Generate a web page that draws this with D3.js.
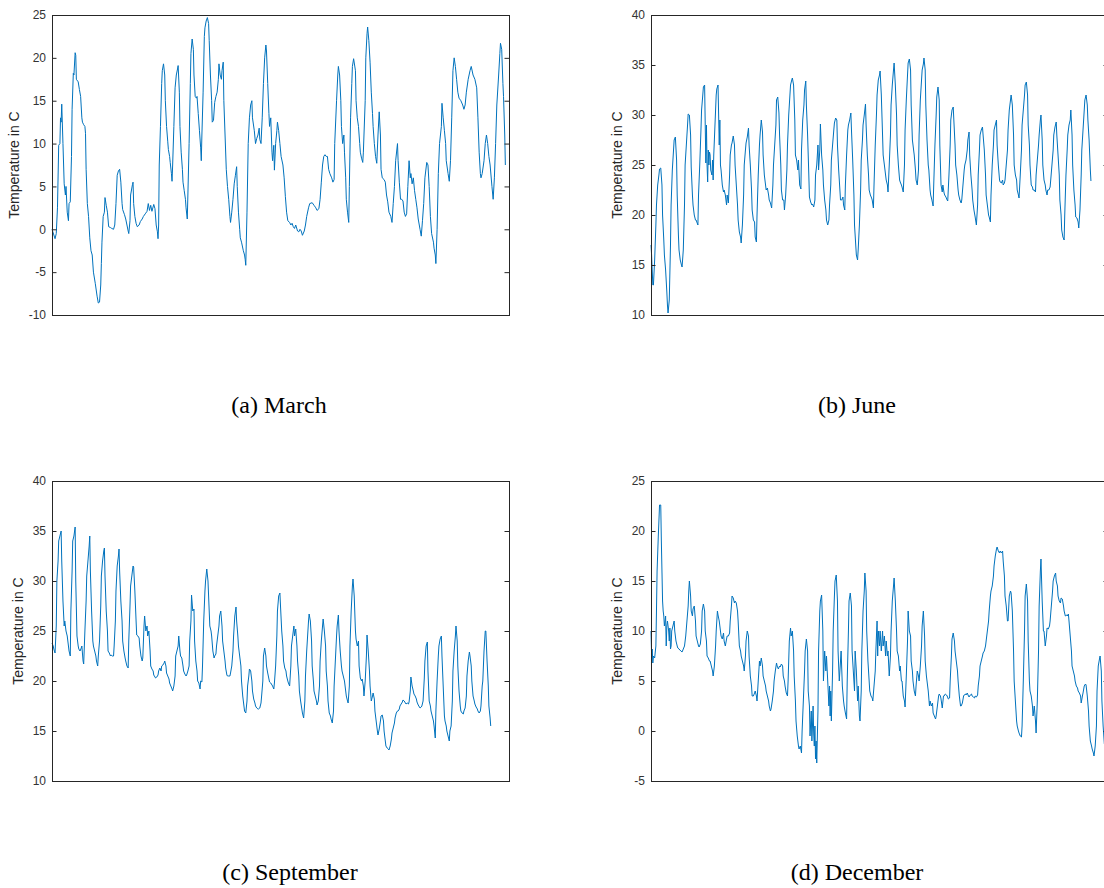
<!DOCTYPE html>
<html>
<head>
<meta charset="utf-8">
<script src="https://cdn.jsdelivr.net/npm/d3@7"></script>
<style>
  html, body { margin: 0; padding: 0; background: #ffffff; }
  svg { display: block; }
</style>
</head>
<body>
<svg id="fig" width="1104" height="888"></svg>
<script>
// Hourly air temperature for four months, [hour of month, temperature in °C]
const marchTemp = [[0,0],[5,-1.1],[7,-0.5],[9,2.5],[11,9.8],[13,10],[14,13],[15,12.5],[16,14.6],[18,10],[20,5.3],[22,4],[23,5],[25,2],[27,1],[28,3],[30,3.2],[32,8.5],[33,14],[35,18.2],[36,18],[38,20.6],[39,20.3],[40,17.5],[43,17.2],[45,16.3],[47,15.5],[49,13],[50,12.5],[52,12.2],[54,12],[55,11.2],[56,7],[58,3],[60,1.5],[62,-1],[64,-2.5],[66,-3],[68,-5],[71,-6.3],[74,-7.8],[76,-8.6],[78,-8.5],[80,-6.5],[81,-4],[82,-1.5],[84,1.5],[86,2],[87,3.7],[89,2.8],[91,2],[93,0.3],[96,0.2],[98,0.1],[101,0],[103,0.5],[105,3],[107,6.3],[109,6.8],[111,7],[113,5.5],[115,3],[116,2.3],[119,1.7],[121,1.2],[123,0.5],[125,-0.2],[126,-0.5],[128,1],[129,4],[132,5.2],[133,5.5],[134,3],[136,1.5],[138,0.7],[140,0.3],[143,0.5],[145,0.9],[148,1.2],[150,1.5],[153,1.8],[156,2.1],[158,3],[160,2.2],[162,2.8],[164,2.1],[167,2.9],[169,2.4],[171,0.5],[173,-0.3],[174,-1.1],[175,0.5],[176,7.5],[178,12],[180,17],[181,18.5],[183,19.3],[185,18],[186,15],[188,12],[190,10.2],[191,9.3],[193,8.5],[194,7.8],[196,6.5],[197,5.6],[198,7.5],[200,12],[202,16.5],[204,18],[206,18.7],[207,19.1],[209,16],[210,12],[212,9],[214,7],[215,5.5],[217,4.5],[219,3.5],[220,2.5],[222,1.2],[223,4],[225,10],[227,17],[228,20.5],[230,22.2],[232,21],[233,18],[235,15.5],[237,15.3],[238,15.5],[240,13.5],[242,11.5],[244,9.5],[245,8],[246,11],[248,16],[250,22.5],[251,23.5],[253,24.3],[255,24.7],[257,24],[258,22],[260,18],[262,15],[263,12.5],[265,12.7],[267,14.8],[269,15.5],[271,16],[273,17.5],[274,19.3],[276,18],[278,17.5],[279,18.5],[281,19.5],[282,15],[284,11],[286,7],[288,5],[290,3.5],[292,1.5],[293,0.8],[295,2],[297,3.5],[299,5.3],[301,6.3],[303,7.3],[304,5],[306,2],[308,0],[309,-1],[311,-1.5],[314,-2.5],[316,-3],[317,-3.5],[318,-4.2],[320,2],[322,10],[324,13],[326,14.5],[328,15],[329,13],[332,11.5],[334,10],[336,10.6],[338,11],[340,11.8],[341,10.5],[343,10],[345,13],[347,17],[349,20],[351,21.5],[352,20.8],[354,17],[356,13.5],[357,12],[359,13],[361,9],[362,8],[364,9.8],[365,6.9],[367,10],[369,11.5],[370,12.5],[372,11.5],[374,10],[376,8.5],[379,7.5],[381,6],[383,3.8],[385,2],[387,1],[390,0.8],[392,0.5],[394,0.7],[396,0.3],[398,0.1],[400,0.5],[403,-0.2],[405,-0.3],[407,0],[409,-0.2],[411,-0.7],[414,-0.2],[416,0.5],[418,1.5],[421,2.5],[423,3],[427,3.1],[430,2.8],[433,2.5],[435,2.2],[438,2.4],[440,3.5],[442,5.5],[444,7.5],[446,8.5],[448,8.7],[450,8.5],[452,8.5],[454,7],[456,6.5],[459,6],[461,5.5],[463,5.8],[464,10],[467,15],[469,18],[470,19],[472,18],[474,15],[475,12],[477,10],[479,11],[480,9],[482,6],[483,3.5],[485,2],[487,0.8],[488,5],[490,13],[492,17],[493,19],[495,19.9],[498,18.5],[499,15],[501,13],[503,12],[505,10],[506,9],[508,8.3],[510,7.8],[511,9],[514,15],[515,20],[517,22.8],[518,23.6],[520,22],[522,19.5],[524,16],[526,13.5],[527,12],[529,10],[531,8.5],[533,7.7],[535,11],[537,13.7],[539,11],[540,7],[542,6],[545,5.8],[547,5.5],[549,4],[551,3.2],[553,2],[556,1.5],[558,0.8],[560,3],[562,5],[564,8],[567,10],[568,8],[570,5.5],[572,3.5],[574,3.5],[576,3.3],[578,2],[580,1.5],[582,1.8],[584,5],[586,8],[588,6],[589,6.5],[591,5.3],[593,6],[595,4.5],[597,3.5],[599,2.5],[601,1.2],[604,0],[606,-0.8],[608,1],[610,3],[612,6],[615,7.8],[617,7.5],[619,5],[621,1.5],[623,-0.5],[626,-1.5],[627,-2.2],[629,-3],[630,-4],[632,0],[634,6.5],[636,10],[639,12],[640,14.7],[642,13],[644,11.5],[646,10],[647,8],[650,6.5],[652,5.6],[654,8],[656,13],[658,18.5],[660,20],[662,19],[664,17.5],[666,16],[668,15.3],[671,15],[674,14.5],[676,14],[678,14.5],[680,16],[683,17.5],[686,18.5],[688,19],[691,18],[694,17.5],[697,16.5],[699,13],[701,9],[703,6.5],[704,6],[706,6.5],[709,8],[711,10],[713,11],[715,10],[717,8.5],[719,7.5],[722,5],[724,3.5],[726,6],[728,10],[730,14.5],[733,18],[735,20.5],[736,21.7],[738,21],[740,17],[741,15.5],[743,11],[744,7.5]];

const juneTemp = [[0,17],[1,16],[3,13],[4,13],[6,15.5],[8,19],[9,21],[11,23],[13,24],[14,24.6],[16,24.7],[18,23],[19,20],[21,17.5],[22,16],[24,14.5],[26,12.3],[27,11],[28,10.2],[30,11.5],[32,17],[33,21],[35,24.5],[37,26.5],[38,27.5],[40,27.8],[42,25.5],[43,22],[45,18],[46,16.5],[48,15.5],[50,15],[51,14.8],[53,16.5],[55,21],[56,25],[58,27],[60,29],[61,30.1],[63,30],[65,28],[66,24.8],[68,22],[69,21],[71,20],[73,19.5],[74,19.5],[77,19],[78,22],[80,25],[82,28.5],[83,30.5],[85,32],[86,32.8],[88,33],[89,29],[90,25.2],[91,29],[92,25],[93,23.3],[94,26.5],[95,25],[96,26.3],[97,26],[98,24.5],[100,24],[101,25.5],[102,23.5],[103,26],[105,29],[107,32],[108,32.6],[110,33],[111,30],[112,27],[113,29.5],[114,25],[115,24.5],[117,23],[119,22.3],[120,22.5],[122,22],[124,21],[125,22],[127,21.2],[129,24],[130,26],[132,27],[133,27.2],[135,27.9],[137,27],[138,25],[140,23],[142,21],[143,19.5],[145,18.3],[147,17.8],[148,17.2],[150,19],[152,22],[153,25],[155,26.5],[156,27.2],[158,27.8],[160,28.7],[161,27],[163,25],[165,22.5],[166,20.5],[168,19.5],[170,19.3],[171,17.8],[173,17.3],[174,20],[176,24],[178,27],[179,28],[181,29.5],[183,28.3],[184,26],[186,24],[188,23],[189,22.5],[191,22.7],[193,22],[194,21.5],[196,21.2],[198,20.7],[200,23],[201,25],[203,27],[205,29],[206,31.5],[208,31.8],[210,30.2],[211,28],[213,25],[214,22.5],[216,21.5],[218,21.5],[219,20.5],[221,22],[223,24.5],[224,27],[226,30],[228,32],[229,33],[231,33.5],[232,33.7],[234,33],[236,29.5],[237,26],[239,25.5],[241,24.5],[242,25.5],[244,23],[246,22.6],[247,26.5],[249,29.5],[251,31],[252,32.5],[254,33.4],[255,31],[257,28],[259,24],[260,21.8],[262,21.3],[264,21],[265,21.1],[267,20.8],[269,21.5],[270,24],[272,25],[274,27],[275,24.5],[277,26.5],[278,29.1],[280,26],[282,24.5],[283,23],[285,21.5],[287,20.5],[288,19.5],[290,19],[292,19.5],[293,21],[295,23],[296,25.5],[298,27],[300,28.5],[301,29.2],[303,29.7],[305,29.5],[306,27],[308,24.5],[310,22.5],[311,21.5],[313,21.5],[315,21.8],[316,21],[318,20.5],[319,23],[321,26],[323,28.5],[324,29],[326,29.5],[328,30.2],[329,28.5],[331,25.5],[333,22],[334,19],[336,17],[337,16],[339,15.5],[340,16.5],[342,19],[344,22.5],[345,25.5],[347,27.5],[348,29],[350,30],[352,31.1],[353,29],[355,26],[357,24],[358,22.5],[360,22],[362,21.7],[363,21.5],[365,20.7],[366,23],[368,27],[370,30],[371,32],[373,33.5],[375,34],[376,34.4],[378,32],[380,28],[381,26],[383,25],[385,24],[386,23.5],[388,23],[389,22.3],[391,25],[393,28],[394,31],[396,33],[398,34.5],[399,35.2],[401,33],[403,30],[404,27],[406,25],[408,23.5],[409,23.3],[411,23],[412,22.8],[414,22.3],[416,25],[417,28.5],[419,31.5],[421,34],[422,35.2],[424,35.6],[426,34.5],[427,31],[429,27.5],[430,27],[432,26],[434,24.5],[435,23.5],[437,23],[439,24.5],[440,28],[442,31.5],[444,33.5],[445,34.5],[447,35.1],[448,35.7],[450,34.5],[451,31],[453,27.5],[455,25],[456,24.5],[458,22.5],[459,22],[461,21.5],[463,20.9],[464,23],[466,27],[468,30],[469,31.8],[471,32.8],[473,31.5],[474,27],[476,23],[478,22.3],[479,23],[481,22.2],[482,22],[484,21.8],[486,21.5],[487,21.4],[489,24],[491,27],[492,29.5],[494,30.5],[496,30.8],[497,29.5],[499,27],[500,25],[502,24],[504,22.5],[505,22],[507,21.5],[509,21.2],[510,21.5],[512,23],[514,24.5],[515,25],[517,25.5],[519,26.5],[520,27.5],[522,28.3],[523,26],[525,24],[527,22.5],[528,21.5],[530,20.5],[532,19.8],[534,19],[536,21],[537,24],[539,26.5],[540,28],[542,28.5],[544,28.8],[545,28],[547,26.5],[549,24],[550,22],[552,21],[554,20],[555,19.8],[557,19.3],[558,22],[560,25],[562,27],[563,28.5],[565,29],[567,29.5],[568,27],[570,25],[572,23.5],[573,23.3],[575,23.2],[577,23.5],[578,23],[580,23.2],[581,23.5],[583,25],[585,26.5],[586,28.5],[588,30.5],[590,31.5],[591,32],[593,31],[595,28],[596,25],[598,24],[600,23.5],[601,22.5],[603,22],[604,21.7],[606,24],[608,26.5],[609,29],[611,30.5],[613,32],[614,33],[616,33.3],[618,32],[619,29],[621,27],[622,25],[624,23],[626,22.8],[627,22.5],[629,22.5],[631,22.3],[632,24],[634,25.5],[636,27],[637,28],[639,29.5],[640,30],[642,27.5],[643,25],[645,23.5],[647,23],[648,22.5],[650,22],[651,22.5],[653,22.5],[655,22.8],[656,23.5],[658,25],[660,26.5],[661,28],[663,28.8],[665,29.3],[666,28],[668,26],[670,24],[671,21.5],[673,20],[674,18.5],[676,17.8],[678,17.5],[679,20],[681,24],[683,26.5],[684,28],[686,29],[688,29.5],[689,30.5],[691,28],[692,25],[694,22.5],[696,21],[697,19.8],[699,19.7],[701,19.3],[702,18.7],[704,20.5],[706,24],[707,26.5],[709,28.5],[711,30.5],[712,31.5],[714,32],[716,31],[717,29.5],[719,27.5],[720,26],[721,24.5],[722,23.4]];

const septemberTemp = [[0,23.8],[2,23.5],[3,23.2],[5,22.8],[7,25.5],[8,30],[10,32],[11,34],[13,34.5],[15,35],[16,32],[18,28],[20,25.5],[21,26],[23,25],[25,24.5],[26,24],[28,23],[30,22.5],[31,27],[33,31],[34,34],[36,34.5],[38,35.4],[39,30],[41,24.5],[43,23.5],[44,23.2],[46,23],[48,23.3],[49,23.5],[51,22],[52,21.7],[54,25],[56,28],[57,30.5],[59,32],[61,33.5],[62,34.5],[63,31],[65,27],[67,24],[68,23.5],[70,23],[72,22.5],[73,22],[75,21.5],[76,22.5],[78,24],[80,27.5],[81,30.5],[83,32],[85,33],[86,33.3],[87,30.5],[89,27],[91,25],[92,23],[94,22.8],[96,22.5],[97,22.6],[99,22.5],[101,22.5],[102,23.5],[104,26],[105,29],[107,31.5],[109,32.5],[110,33.2],[111,31],[113,28],[115,26],[116,24],[118,23],[120,22.3],[121,22],[123,21.5],[125,21.3],[126,24],[128,27.5],[129,29.5],[131,30.5],[133,31.5],[134,31.4],[136,29],[138,26],[139,24.6],[141,24.5],[143,24.3],[144,23.5],[146,22.5],[148,22],[149,22.3],[151,25.5],[152,26.5],[154,25],[156,25.5],[157,24.5],[159,25],[161,23],[162,21.5],[164,21.2],[166,21],[167,20.6],[169,20.4],[170,20.3],[172,20.4],[174,20.6],[175,21],[177,21.3],[179,21],[180,21.5],[182,21.6],[184,21.8],[185,22],[187,21.5],[188,20.8],[190,20.5],[192,20.2],[193,19.8],[195,19.5],[197,19.2],[198,19],[200,19.5],[202,20.5],[203,22.5],[205,23],[207,23.5],[208,24.5],[210,23],[211,22.5],[213,22.3],[215,21.5],[216,21],[218,20.7],[220,20.5],[221,20.6],[223,21],[225,21.5],[226,24],[228,26],[229,28.6],[231,27],[233,27.2],[234,24],[236,22],[238,21],[239,20],[241,19.8],[243,19.2],[244,20],[246,19.9],[247,21.5],[249,26],[251,29],[252,30],[254,31.2],[256,30],[257,28.5],[259,25.5],[261,25],[262,24.5],[264,23],[266,22.3],[267,22.5],[269,22.7],[270,23.5],[272,24.5],[274,25.5],[275,26.5],[277,27],[279,25.5],[280,24],[282,23],[284,22],[285,21.3],[287,20.6],[288,20.5],[290,20.5],[292,20.5],[293,20.8],[295,21.5],[297,23],[298,24.5],[300,26.5],[302,27.4],[303,26],[305,24.5],[306,23.5],[308,22.5],[310,21.5],[311,20],[313,18.5],[315,17.5],[316,17],[318,16.8],[320,18],[321,19.5],[323,20.5],[324,21.2],[326,21],[328,20],[329,19],[331,18.2],[333,17.8],[334,17.5],[336,17.3],[338,17.2],[339,17.2],[341,17.3],[343,17.8],[344,18.5],[346,20],[347,22.5],[349,23.3],[351,22.5],[352,21.5],[354,20.8],[356,20.2],[357,19.9],[359,19.8],[361,19.6],[362,19.5],[364,19.2],[365,19.8],[367,21.5],[369,24.5],[370,27],[372,28.5],[374,28.8],[375,27.5],[377,25],[379,23.5],[380,22],[382,21.3],[384,21],[385,20.5],[387,20],[388,19.8],[390,19.5],[392,21.5],[393,23.5],[395,24.5],[397,25.5],[398,24.5],[400,25.2],[402,23.5],[403,22],[405,20.5],[406,19],[408,18],[410,17.2],[411,16.8],[413,16.3],[415,18],[416,20.5],[418,23],[420,25],[421,26],[422,26.7],[424,26],[426,24],[427,21.5],[429,20],[430,19],[432,18.5],[434,18],[435,17.6],[437,18],[439,19.5],[440,22],[442,24],[444,25.5],[445,26.2],[447,25],[449,23.5],[450,21],[452,19.5],[453,18],[455,16.8],[457,16.5],[458,16.2],[460,15.8],[462,17],[463,19.5],[465,22],[467,24.5],[468,25.5],[470,26.6],[471,25],[473,23],[475,21.5],[476,21],[478,20.5],[480,20],[481,19.5],[483,18.5],[485,18],[486,17.8],[488,19.5],[489,23.5],[491,27],[493,29.5],[494,30.2],[496,28.5],[498,25],[499,24.2],[501,23.5],[503,24],[504,21.5],[506,20.3],[508,20],[509,20.2],[511,19.5],[512,18.5],[514,20],[516,22.5],[517,24.6],[519,23],[521,21],[522,19.5],[524,18],[526,18.5],[527,18.8],[529,18.2],[530,17],[532,16],[534,15],[535,14.6],[537,15.2],[539,16],[540,16.5],[542,16.6],[544,16],[545,15],[547,14],[548,13.5],[550,13.3],[552,13.2],[553,13.1],[555,13.5],[557,14.2],[558,14.8],[560,15.3],[562,15.8],[563,16.3],[565,16.8],[567,17],[568,17],[570,17.2],[571,17.5],[573,17.7],[575,17.9],[576,18.1],[578,18],[580,17.8],[581,17.7],[583,17.8],[585,17.7],[586,17.9],[588,19],[589,20.4],[591,19.5],[593,19],[594,18.7],[596,18.5],[598,18.2],[599,17.9],[601,17.6],[603,17.4],[604,17.3],[606,17.4],[607,17.5],[609,18],[611,20.3],[612,22],[614,23.5],[616,23.9],[617,21],[619,18],[621,17.5],[622,17],[624,16.5],[626,16],[627,15.5],[629,14.3],[630,17],[632,20],[634,22.5],[635,23.5],[637,24.2],[639,24.5],[640,22.5],[642,19.5],[644,16.5],[645,16],[647,15.5],[648,15],[650,14.5],[652,14],[653,15],[655,15.5],[657,18],[658,21],[660,23],[662,24.5],[663,25.5],[665,24],[666,21.5],[668,19],[670,17.5],[671,17],[673,16.8],[675,16.7],[676,17],[678,17.3],[680,18.5],[681,20.5],[683,22],[685,22.9],[686,22.5],[688,21.5],[689,20],[691,18.5],[693,18],[694,17.7],[696,17.4],[698,17.2],[699,17],[701,16.8],[703,17],[704,17.5],[706,19.5],[707,20],[709,23],[711,25],[712,25],[714,22],[716,19.5],[717,17.5],[719,16.3],[720,15.5]];

const decemberTemp = [[0,10],[1,7.5],[2,8.2],[3,6.8],[4,7.5],[6,7.3],[8,8.5],[9,12],[10,16],[12,19.5],[13,21],[14,22.6],[16,22.6],[17,19],[18,16],[19,13],[20,12],[21,11.5],[22,10.5],[24,11.5],[25,8.5],[26,10.5],[27,11],[29,10],[30,9],[31,10.3],[32,8.2],[33,8.5],[34,10],[36,10.5],[38,11],[39,10],[41,9],[43,8.5],[44,8.3],[46,8.2],[49,8],[51,7.9],[53,8.2],[55,8.5],[57,9.5],[59,11],[61,12.5],[62,14],[63,15],[65,13.5],[66,12],[68,11.5],[69,12.2],[71,12.5],[73,11],[74,9.5],[76,9],[78,8.5],[79,8.4],[81,8.7],[83,10],[84,12],[86,12.7],[88,12],[89,10],[91,9],[92,7.5],[94,7.3],[96,7],[97,7],[99,6.5],[101,6],[102,5.5],[104,6.5],[106,8.5],[107,10],[109,12],[110,11.6],[112,11],[114,10],[115,9.5],[117,9.2],[119,9.8],[120,9],[122,8.5],[124,9.2],[125,9.5],[127,9.5],[129,9.8],[130,11],[132,12.5],[133,13.5],[135,13.3],[137,12.8],[138,13],[140,12.8],[142,12],[143,11],[145,8.5],[147,8],[148,7.5],[150,7],[152,6.5],[153,6],[155,7.5],[156,9],[158,10],[160,9.5],[161,7.5],[163,5.5],[165,4.5],[166,3.5],[168,3.5],[170,3.8],[171,4],[173,3.5],[174,3],[176,5],[178,7],[179,6.5],[181,7.3],[183,6.5],[184,5.5],[186,5],[188,4.5],[189,4],[191,3.5],[193,3],[194,2.5],[196,2],[197,2.2],[199,3],[201,4],[202,5],[204,6],[206,6.8],[207,6.5],[209,6.2],[211,6.5],[212,6.4],[214,6.7],[216,6.5],[217,5.5],[219,5],[220,4.5],[222,3.8],[224,3.5],[225,5],[227,9],[229,10.3],[230,9.5],[232,10],[234,8],[235,5.5],[237,3],[238,1],[240,-0.5],[242,-1.5],[243,-1.8],[245,-1.5],[247,-2.2],[248,0],[250,3],[252,6],[253,8],[255,9.2],[257,8],[258,4],[260,2.5],[261,-0.5],[263,2],[264,-1],[265,0.5],[266,2.5],[267,-0.3],[268,-1.5],[269,0.5],[270,-2.8],[271,-1],[272,-3.2],[274,2],[275,8],[277,12],[278,13],[280,13.6],[282,10],[283,5],[285,8],[287,6],[288,7.5],[290,5],[292,2.5],[293,4.5],[294,1.5],[295,4],[296,1],[298,6],[299,10],[301,13.5],[302,15],[304,15.6],[306,13],[307,8],[309,5],[311,7],[312,8],[314,4.5],[316,3],[317,2.5],[319,1.8],[321,1.2],[322,5],[324,10],[325,13],[327,13.8],[329,12.5],[330,8],[332,6],[334,4],[335,8],[337,6],[339,3],[340,4.5],[342,1.5],[343,1],[345,4],[346,8],[348,12],[350,14],[351,15.8],[353,14],[354,10],[356,7],[358,5],[359,4],[361,3.5],[363,3.3],[364,3],[366,4.5],[368,6],[369,8],[371,11],[372,7.5],[373,10],[375,8.5],[376,10],[378,8],[380,10],[381,8.5],[383,9.5],[385,7.5],[386,9],[388,7.5],[389,8],[391,5.5],[393,7.5],[394,10],[396,13],[398,14.5],[399,15.3],[401,13],[403,10],[404,8],[406,7.5],[408,6],[409,6.5],[411,5],[412,5],[414,3.5],[416,3],[417,2.4],[419,5.5],[421,9],[422,12],[424,10],[426,9.5],[427,7],[429,6],[430,5],[432,4],[434,3.5],[435,4.5],[437,6],[439,5.5],[440,5],[442,6.5],[444,8.5],[445,10.5],[447,12],[449,9.5],[450,7],[452,5.5],[453,5],[455,4],[457,2.5],[458,3],[460,2.5],[462,2.8],[463,1.8],[465,1.5],[467,1.2],[468,1.5],[470,2.5],[472,3.5],[473,3.7],[475,3.5],[476,3.2],[478,2.3],[480,3.5],[481,3.5],[483,3.7],[485,3.6],[486,3.5],[488,3.2],[490,3.3],[491,5],[493,7.5],[494,9.2],[496,9.8],[498,9],[499,8],[501,7],[503,6],[504,5],[506,3.5],[508,2.5],[509,2.5],[511,2.8],[513,3.5],[514,3.6],[516,3.7],[517,3.6],[519,3.8],[521,3.5],[522,3.4],[524,3.6],[526,3.7],[527,3.5],[529,3.4],[531,3.3],[532,3.5],[534,3.4],[536,3.6],[537,4.5],[539,5.5],[540,6.5],[542,7],[544,7.5],[545,7.8],[547,8],[549,8.5],[550,9],[552,10],[554,11],[555,12],[557,13.5],[558,14],[560,14.5],[562,15.5],[563,16.5],[565,17.5],[567,18.2],[568,18.4],[570,18],[572,17.8],[573,18],[575,17.8],[577,18],[578,17],[580,15.5],[581,13.5],[583,12.5],[585,11],[586,11],[588,13.5],[590,14],[591,13.8],[593,12],[595,8],[596,5],[598,3],[600,1],[601,0.5],[603,0],[604,-0.2],[606,-0.5],[608,-0.6],[609,0.5],[611,5],[613,10],[614,13.5],[616,14.7],[618,13],[619,9],[621,5],[622,4],[624,3.5],[626,2.5],[627,1.5],[629,2.5],[631,1],[632,-0.2],[634,3],[636,8],[637,12.5],[639,16],[640,17.2],[642,13],[644,10],[645,10],[647,8.5],[649,9.5],[650,10.3],[652,10.2],[654,10.5],[655,11],[657,12.5],[659,14],[660,15],[662,15.5],[664,15.8],[665,15],[667,14.5],[668,13.5],[670,13],[672,12.8],[673,13.3],[675,13.2],[677,12.5],[678,12],[680,11.5],[682,11.6],[683,11.5],[685,11.7],[686,11],[688,9.5],[690,8],[691,6.5],[693,6],[695,5.5],[696,5],[698,4.5],[700,4.3],[701,4],[703,3.8],[705,3.5],[706,2.8],[708,3.5],[709,3.8],[711,4.5],[713,4.7],[714,4.6],[716,3.5],[718,2],[719,0.5],[721,-1],[723,-1.5],[724,-1.8],[726,-2.2],[727,-2.5],[729,-1.5],[731,0.5],[732,4],[734,6.5],[736,7.2],[737,7.5],[739,6],[740,3],[742,0.5],[744,-1.3]];

// Panel captions, y-axis ranges and tick values
const captions = ["(a) March", "(b) June", "(c) September", "(d) December"];
const yRanges = [[-10, 25], [10, 40], [10, 40], [-5, 25]];
const yTicks = [
  [-10, -5, 0, 5, 10, 15, 20, 25],
  [10, 15, 20, 25, 30, 35, 40],
  [10, 15, 20, 25, 30, 35, 40],
  [-5, 0, 5, 10, 15, 20, 25]
];
const hourRange = [0, 750];
const yLabel = "Temperature in C";

const series = [marchTemp, juneTemp, septemberTemp, decemberTemp];

// Layout of the 2x2 grid
const layout = [
  { left: 52,  top: 15,  labelX: 14,  capX: 279, capY: 413 },
  { left: 651, top: 15,  labelX: 617, capX: 857, capY: 413 },
  { left: 52,  top: 481, labelX: 18,  capX: 290, capY: 880 },
  { left: 651, top: 481, labelX: 617, capX: 857, capY: 880 }
];
const plotW = 457, plotH = 300;
const axisColor = "#262626";
const lineColor = "#0072BD";

const svg = d3.select("#fig");
svg.append("rect").attr("width", 1104).attr("height", 888).attr("fill", "#ffffff");

series.forEach((data, i) => {
  const L = layout[i];
  const x = d3.scaleLinear().domain(hourRange).range([0, plotW]);
  const y = d3.scaleLinear().domain(yRanges[i]).range([plotH, 0]);

  const g = svg.append("g").attr("transform", `translate(${L.left},${L.top})`);

  // temperature trace
  g.append("path")
    .datum(data)
    .attr("fill", "none")
    .attr("stroke", lineColor)
    .attr("stroke-width", 1)
    .attr("stroke-linejoin", "round")
    .attr("d", d3.line().x(d => x(d[0])).y(d => y(d[1])));

  // left axis with inward ticks and labels (plain hyphen for negatives)
  const left = g.append("g")
    .call(d3.axisLeft(y).tickValues(yTicks[i]).tickSize(-4.5).tickPadding(6).tickFormat(d => String(d)));
  // mirrored ticks on the right edge
  const right = g.append("g").attr("transform", `translate(${plotW},0)`)
    .call(d3.axisRight(y).tickValues(yTicks[i]).tickSize(-4.5).tickFormat(""));

  [left, right].forEach(ax => {
    ax.select(".domain").remove();
    ax.selectAll("line").attr("stroke", axisColor).attr("stroke-width", 1);
    ax.selectAll("text")
      .attr("fill", "#333333")
      .style("font-family", "'Liberation Sans', Arial, sans-serif")
      .style("font-size", "12px");
  });

  // box around the plot area
  g.append("rect")
    .attr("x", 0).attr("y", 0).attr("width", plotW).attr("height", plotH)
    .attr("fill", "none").attr("stroke", axisColor).attr("stroke-width", 1)
    .attr("shape-rendering", "crispEdges");

  // y-axis title
  svg.append("text")
    .attr("transform", `translate(${L.labelX},${L.top + plotH / 2}) rotate(-90)`)
    .attr("text-anchor", "middle")
    .attr("dominant-baseline", "central")
    .attr("fill", "#262626")
    .style("font-family", "'Liberation Sans', Arial, sans-serif")
    .style("font-size", "14px")
    .text(yLabel);

  // caption below each panel
  svg.append("text")
    .attr("x", L.capX).attr("y", L.capY)
    .attr("text-anchor", "middle")
    .attr("fill", "#000000")
    .style("font-family", "'Liberation Serif', 'Times New Roman', serif")
    .style("font-size", "24px")
    .text(captions[i]);
});
</script>
</body>
</html>
